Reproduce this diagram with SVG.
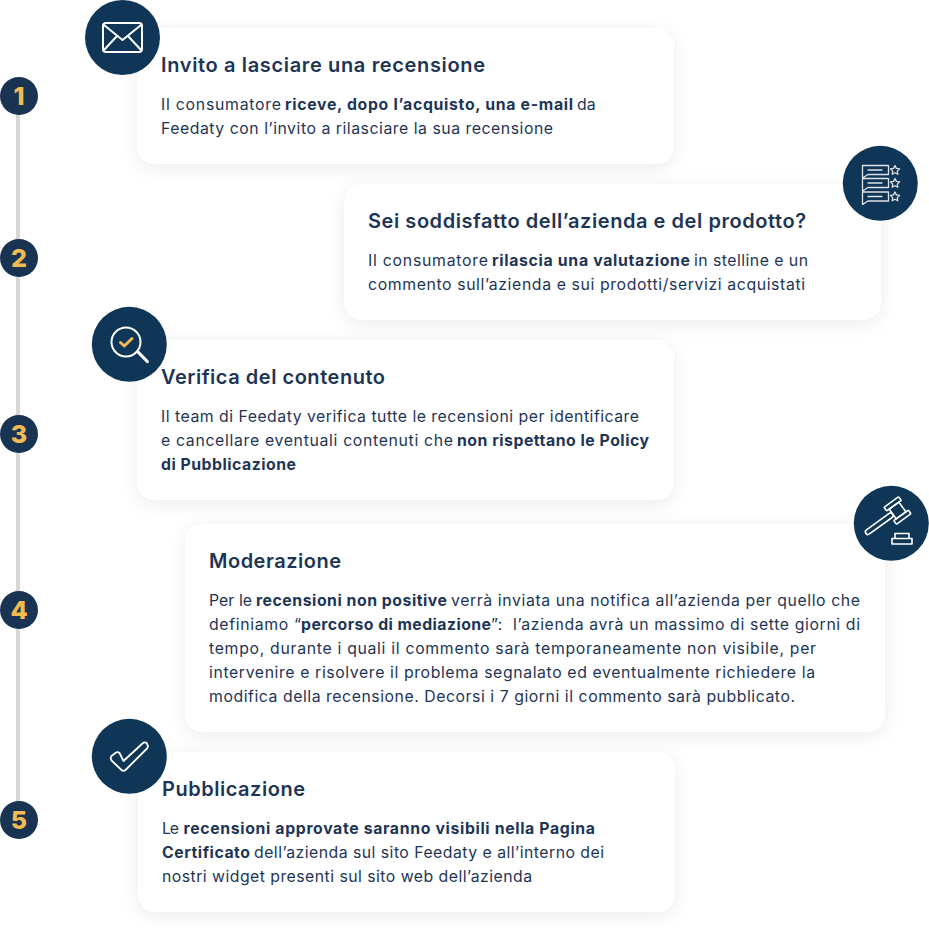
<svg xmlns="http://www.w3.org/2000/svg" width="929" height="928" viewBox="0 0 929 928">
<style>
text{font-family:"Inter","Noto Sans","Liberation Sans",sans-serif;fill:#1e3556}
.t{font-size:20px;font-weight:600}
.b{font-size:15.800px;font-weight:400}
.s{font-size:15.800px;font-weight:700}
.card{fill:#fff;filter:url(#sh)}
.badge{fill:#193353}
.disc{fill:#0f3657}
.num{font-size:25px;font-weight:800;fill:#f2bb52;text-anchor:middle}
.ic{fill:none;stroke:#fff;stroke-width:2;stroke-linejoin:round;stroke-linecap:round}
.thin{stroke-width:1.300;stroke:#dfe4e9}
</style>
<defs>
<filter id="sh" x="-10%" y="-20%" width="120%" height="140%"><feDropShadow dx="0" dy="4" stdDeviation="9" flood-color="#000" flood-opacity="0.08"/></filter>
</defs>
<rect width="929" height="928" fill="#fff"/>
<g id="connectors"><rect x="16" y="96" width="4" height="724" fill="#d6d6d6"/></g>

<g id="step-1">
<circle class="badge" cx="19" cy="96" r="19"/><text class="num" x="19" y="105">1</text>
<rect class="card" x="137" y="28" width="537" height="136" rx="18"/>
<circle class="disc" cx="122.500" cy="37.500" r="37.500"/>
<rect class="ic" x="103" y="23" width="39" height="29" rx="3"/>
<path class="ic" d="M104 25L122.500 40L141 25M104 50L117 36M141 50L128 36"/>
<text class="t" x="161" y="72" textLength="324">Invito a lasciare una recensione</text>
<text class="b" x="161" y="110" textLength="120">Il consumatore</text>
<text class="s" x="285" y="110" textLength="288">riceve, dopo l’acquisto, una e-mail</text>
<text class="b" x="577" y="110">da</text>
<text class="b" x="161" y="134" textLength="392">Feedaty con l’invito a rilasciare la sua recensione</text>
</g>

<g id="step-2">
<circle class="badge" cx="19" cy="258" r="19"/><text class="num" x="19" y="267">2</text>
<rect class="card" x="344" y="184" width="537" height="136" rx="18"/>
<circle class="disc" cx="880.300" cy="183.300" r="37.500"/>
<g class="ic thin">
<path d="M862.500 165.500H888.500V174.500H868L862.500 178ZM862.500 178.500H888.500V187.500H868L862.500 191ZM862.500 192H888.500V201H868L862.500 204.500Z"/>
<path d="M868 170H882M868 183H882M868 196.500H882"/>
<path d="M895 165.500L896.400 168.400L899.600 168.900L897.300 171.100L897.800 174.300L895 172.800L892.200 174.300L892.700 171.100L890.400 168.900L893.600 168.400Z"/>
<path d="M895 178.500L896.400 181.400L899.600 181.900L897.300 184.100L897.800 187.300L895 185.800L892.200 187.300L892.700 184.100L890.400 181.900L893.600 181.400Z"/>
<path d="M895 192L896.400 194.900L899.600 195.400L897.300 197.600L897.800 200.800L895 199.300L892.200 200.800L892.700 197.600L890.400 195.400L893.600 194.900Z"/>
</g>
<text class="t" x="368" y="228" textLength="438">Sei soddisfatto dell’azienda e del prodotto?</text>
<text class="b" x="368" y="266" textLength="120">Il consumatore</text>
<text class="s" x="492" y="266" textLength="198">rilascia una valutazione</text>
<text class="b" x="694" y="266" textLength="114">in stelline e un</text>
<text class="b" x="368" y="290" textLength="437">commento sull’azienda e sui prodotti/servizi acquistati</text>
</g>

<g id="step-3">
<circle class="badge" cx="19" cy="434" r="19"/><text class="num" x="19" y="443">3</text>
<rect class="card" x="137" y="340" width="537" height="160" rx="18"/>
<circle class="disc" cx="129.300" cy="344.300" r="37.500"/>
<circle class="ic" cx="126" cy="342" r="14.500"/>
<path class="ic" style="stroke-width:3.200" d="M138 352L147.300 361.500"/>
<path d="M120.500 342.500L124.300 346L132 338.500" fill="none" stroke="#f2bb52" stroke-width="3" stroke-linecap="round" stroke-linejoin="round"/>
<text class="t" x="161" y="384" textLength="224">Verifica del contenuto</text>
<text class="b" x="161" y="422" textLength="478">Il team di Feedaty verifica tutte le recensioni per identificare</text>
<text class="b" x="161" y="446" textLength="292">e cancellare eventuali contenuti che</text>
<text class="s" x="457" y="446" textLength="192">non rispettano le Policy</text>
<text class="s" x="161" y="470" textLength="135">di Pubblicazione</text>
</g>

<g id="step-4">
<circle class="badge" cx="19" cy="610" r="19"/><text class="num" x="19" y="619">4</text>
<rect class="card" x="185" y="524" width="700" height="208" rx="18"/>
<circle class="disc" cx="891.300" cy="523.300" r="37.500"/>
<g class="ic" style="stroke-width:1.600">
<g transform="translate(897.500 510.500) rotate(-36)">
<rect x="-39" y="-2.500" width="33" height="5" rx="2.500"/>
<rect x="-6" y="-6" width="12" height="12"/>
<rect x="-9" y="-10.500" width="18" height="4.500" rx="0.800"/>
<rect x="-9" y="6" width="18" height="4.500" rx="0.800"/>
</g>
<path d="M895 538.500V533.500H909V538.500M892 544V538.500H912V544Z"/>
</g>
<text class="t" x="209" y="568" textLength="132">Moderazione</text>
<text class="b" x="209" y="606" textLength="43">Per le</text>
<text class="s" x="256" y="606" textLength="191">recensioni non positive</text>
<text class="b" x="451" y="606" textLength="409">verrà inviata una notifica all’azienda per quello che</text>
<text class="b" x="209" y="630" textLength="92">definiamo “</text>
<text class="s" x="301" y="630" textLength="190">percorso di mediazione</text>
<text class="b" x="491" y="630" textLength="369" xml:space="preserve">”:  l’azienda avrà un massimo di sette giorni di</text>
<text class="b" x="209" y="654" textLength="607">tempo, durante i quali il commento sarà temporaneamente non visibile, per</text>
<text class="b" x="209" y="678" textLength="606">intervenire e risolvere il problema segnalato ed eventualmente richiedere la</text>
<text class="b" x="209" y="702" textLength="586">modifica della recensione. Decorsi i 7 giorni il commento sarà pubblicato.</text>
</g>

<g id="step-5">
<circle class="badge" cx="19" cy="820" r="19"/><text class="num" x="19" y="829">5</text>
<rect class="card" x="138" y="752" width="537" height="160" rx="18"/>
<circle class="disc" cx="129.300" cy="756.300" r="37.500"/>
<path class="ic" style="stroke-width:1.800" d="M111.500 756L116 752.500Q118 751.500 119.500 753L123.500 761L143 743Q145 741.500 147 743.500L147.500 745Q148.500 747 147 748.500L125.500 770Q123.500 771.500 121.500 770L111.500 760.500Q110 758 111.500 756Z"/>
<text class="t" x="162" y="796" textLength="143">Pubblicazione</text>
<text class="b" x="162" y="834" textLength="17">Le</text>
<text class="s" x="183.500" y="834" textLength="411.500">recensioni approvate saranno visibili nella Pagina</text>
<text class="s" x="162" y="858" textLength="88">Certificato</text>
<text class="b" x="254" y="858" textLength="350">dell’azienda sul sito Feedaty e all’interno dei</text>
<text class="b" x="162" y="882" textLength="370">nostri widget presenti sul sito web dell’azienda</text>
</g>
</svg>
